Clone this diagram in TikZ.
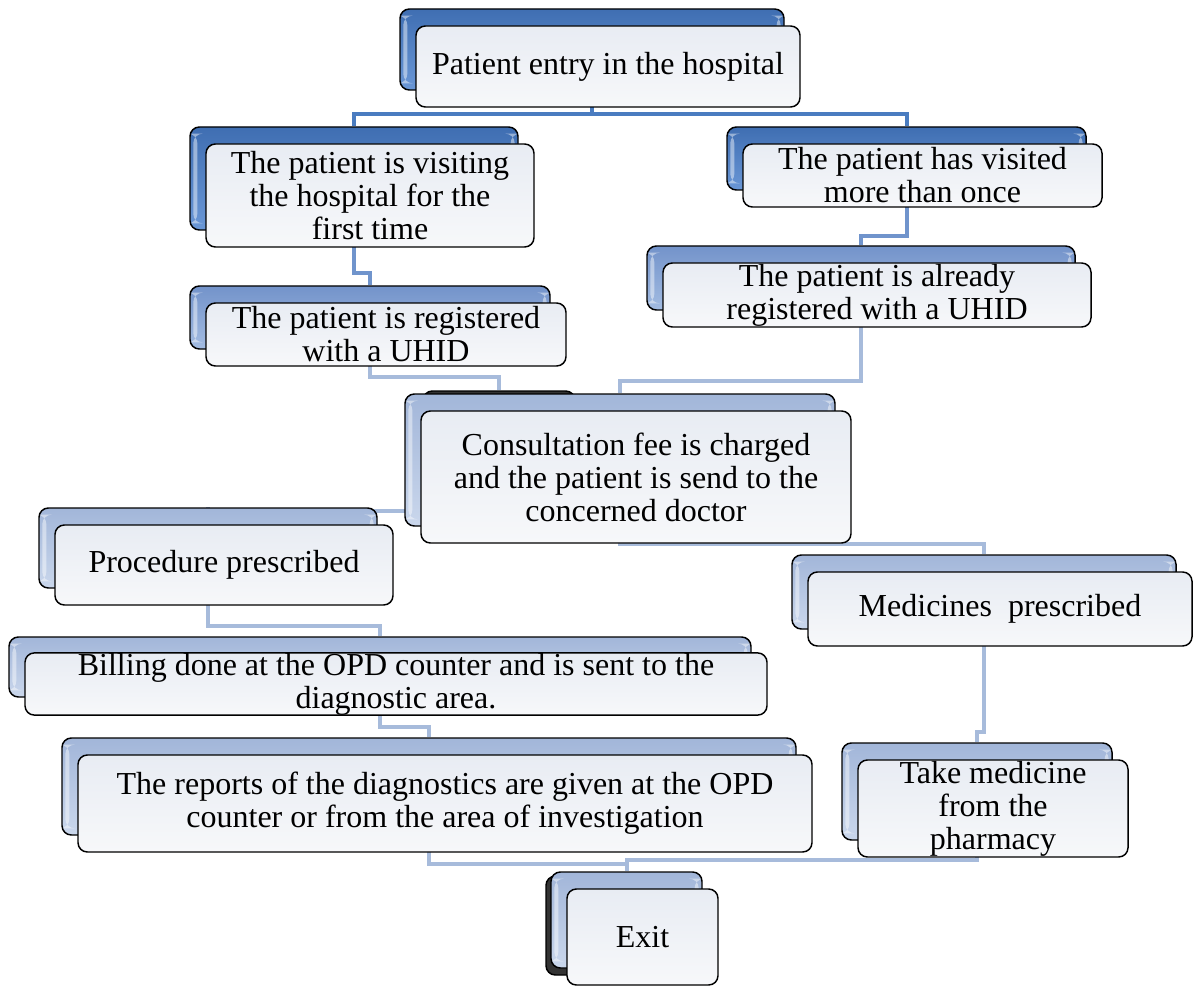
\documentclass[tikz,border=0pt]{standalone}
\usepackage{fontspec}
\setmainfont{Liberation Serif}
\pgfdeclarelayer{conn}
\pgfdeclarelayer{back}
\pgfsetlayers{conn,back,main}
\definecolor{lineA}{HTML}{4A7CC0}
\definecolor{lineB}{HTML}{7094CC}
\definecolor{lineC}{HTML}{A7BBDB}
\definecolor{backA1}{HTML}{3F6EB2}
\definecolor{backA2}{HTML}{6A97D6}
\definecolor{backB1}{HTML}{7393CA}
\definecolor{backB2}{HTML}{A3BCE2}
\definecolor{backC1}{HTML}{A2B6D9}
\definecolor{backC2}{HTML}{CAD7EC}
\definecolor{frontT}{HTML}{E8ECF3}
\definecolor{frontB}{HTML}{F7F8FA}
\tikzset{
  frontbox/.style={draw=black, line width=1.1pt, rounded corners=7pt,
    top color=frontT, bottom color=frontB, inner sep=0pt, align=center,
    font=\fontsize{24}{24.8}\selectfont},
  backbox/.style={draw=black, line width=1.1pt, rounded corners=7pt, inner sep=0pt,
    path picture={
      \fill[white, opacity=0.45] ([xshift=2.5pt,yshift=-5pt]path picture bounding box.north west)
        rectangle ([xshift=5.5pt,yshift=5pt]path picture bounding box.south west);
      \fill[white, opacity=0.45] ([xshift=-2.5pt,yshift=-5pt]path picture bounding box.north east)
        rectangle ([xshift=-5.5pt,yshift=5pt]path picture bounding box.south east);}},
  ghostbox/.style={draw=black, fill=black!80, line width=1.1pt, rounded corners=7pt, inner sep=0pt},
  lvlA/.style={top color=backA1, bottom color=backA2},
  lvlB/.style={top color=backB1, bottom color=backB2},
  lvlC/.style={top color=backC1, bottom color=backC2},
  linkA/.style={draw=lineA, line width=3pt},
  linkB/.style={draw=lineB, line width=3pt},
  linkC/.style={draw=lineC, line width=3pt},
}
% #1 name, #2 x1, #3 y1, #4 x2, #5 y2 (front box, px), #6 back style, #7 text
\newcommand\flowbox[7]{%
  \node[frontbox, minimum width={(#4-#2)*0.75pt}, minimum height={(#5-#3)*0.75pt}]
    (#1) at ({(#2+#4)/2},{(#3+#5)/2}) {#7};
  \begin{pgfonlayer}{back}
    \node[backbox, #6, minimum width={(#4-#2)*0.75pt}, minimum height={(#5-#3)*0.75pt}]
      (#1B) at ([shift={(-16,-17)}]#1.center) {};
  \end{pgfonlayer}}
\begin{document}
\begin{tikzpicture}[x=0.75pt,y=-0.75pt]
\useasboundingbox (0,0) rectangle (1194,987);
\begin{pgfonlayer}{back}
  \node[ghostbox, minimum width={152*0.75pt}, minimum height={80*0.75pt}] (ghost) at (499,431) {};
  \node[ghostbox, minimum width={154*0.75pt}, minimum height={99*0.75pt}] (ghostE) at (623,925.5) {};
\end{pgfonlayer}
\flowbox{entry}{416}{26}{800}{107}{lvlA}{Patient entry in the hospital}
\flowbox{first}{206}{144}{534}{247}{lvlA}{The patient is visiting\\the hospital for the\\first time}
\flowbox{reg}{206}{303}{566}{366}{lvlB}{The patient is registered\\with a UHID}
\flowbox{visit}{743}{144}{1102}{207}{lvlA}{The patient has visited\\more than once}
\flowbox{already}{663}{263}{1091}{327}{lvlB}{The patient is already\\registered with a UHID}
\flowbox{consult}{421}{411}{851}{543}{lvlC}{Consultation fee is charged\\and the patient is send to the\\concerned doctor}
\flowbox{proc}{55}{525}{393}{605}{lvlC}{Procedure prescribed}
\flowbox{bill}{25}{654}{767}{714}{lvlC}{Billing done at the OPD counter and is sent to the\\diagnostic area.}
\flowbox{reports}{78}{755}{812}{852}{lvlC}{The reports of the diagnostics are given at the OPD\\counter or from the area of investigation}
\flowbox{med}{808}{572}{1192}{646}{lvlC}{Medicines\ \ prescribed}
\flowbox{take}{858}{760}{1128}{857}{lvlC}{Take medicine\\from the\\pharmacy}
\flowbox{exit}{567}{889}{718}{985}{lvlC}{Exit}
\begin{pgfonlayer}{conn}
  \draw[linkA] (entryB.south) |- ([yshift=9pt]firstB.north) -- (firstB.north);
  \draw[linkA] (entryB.south) |- ([yshift=9pt]visitB.north) -- (visitB.north);
  \draw[linkB] (firstB.south) |- ([yshift=9pt]regB.north) -- (regB.north);
  \draw[linkB] (visitB.south) |- ([yshift=7pt]alreadyB.north) -- (alreadyB.north);
  \draw[linkC] (regB.south) |- ([yshift=10pt]ghost.north) -- (ghost.north);
  \draw[linkC] (alreadyB.south) |- ([yshift=9pt]consultB.north) -- (consultB.north);
  \draw[linkC] (consultB.south) |- ([yshift=7.5pt]medB.north) -- (medB.north);
  \draw[linkC] (consultB.south) |- ([yshift=-3pt]procB.north) -- (procB.north);
  \draw[linkC] (procB.south) |- ([yshift=7.5pt]billB.north) -- (billB.north);
  \draw[linkC] (billB.south) |- ([yshift=8pt]reportsB.north) -- (reportsB.north);
  \draw[linkC] (medB.south) |- ([yshift=7.5pt]takeB.north) -- (takeB.north);
  \draw[linkC] (reportsB.south) |- ([yshift=5.5pt]exitB.north) -- (exitB.north);
  \draw[linkC] (takeB.south) |- ([yshift=8.5pt]exitB.north) -- (exitB.north);
\end{pgfonlayer}
\end{tikzpicture}
\end{document}
